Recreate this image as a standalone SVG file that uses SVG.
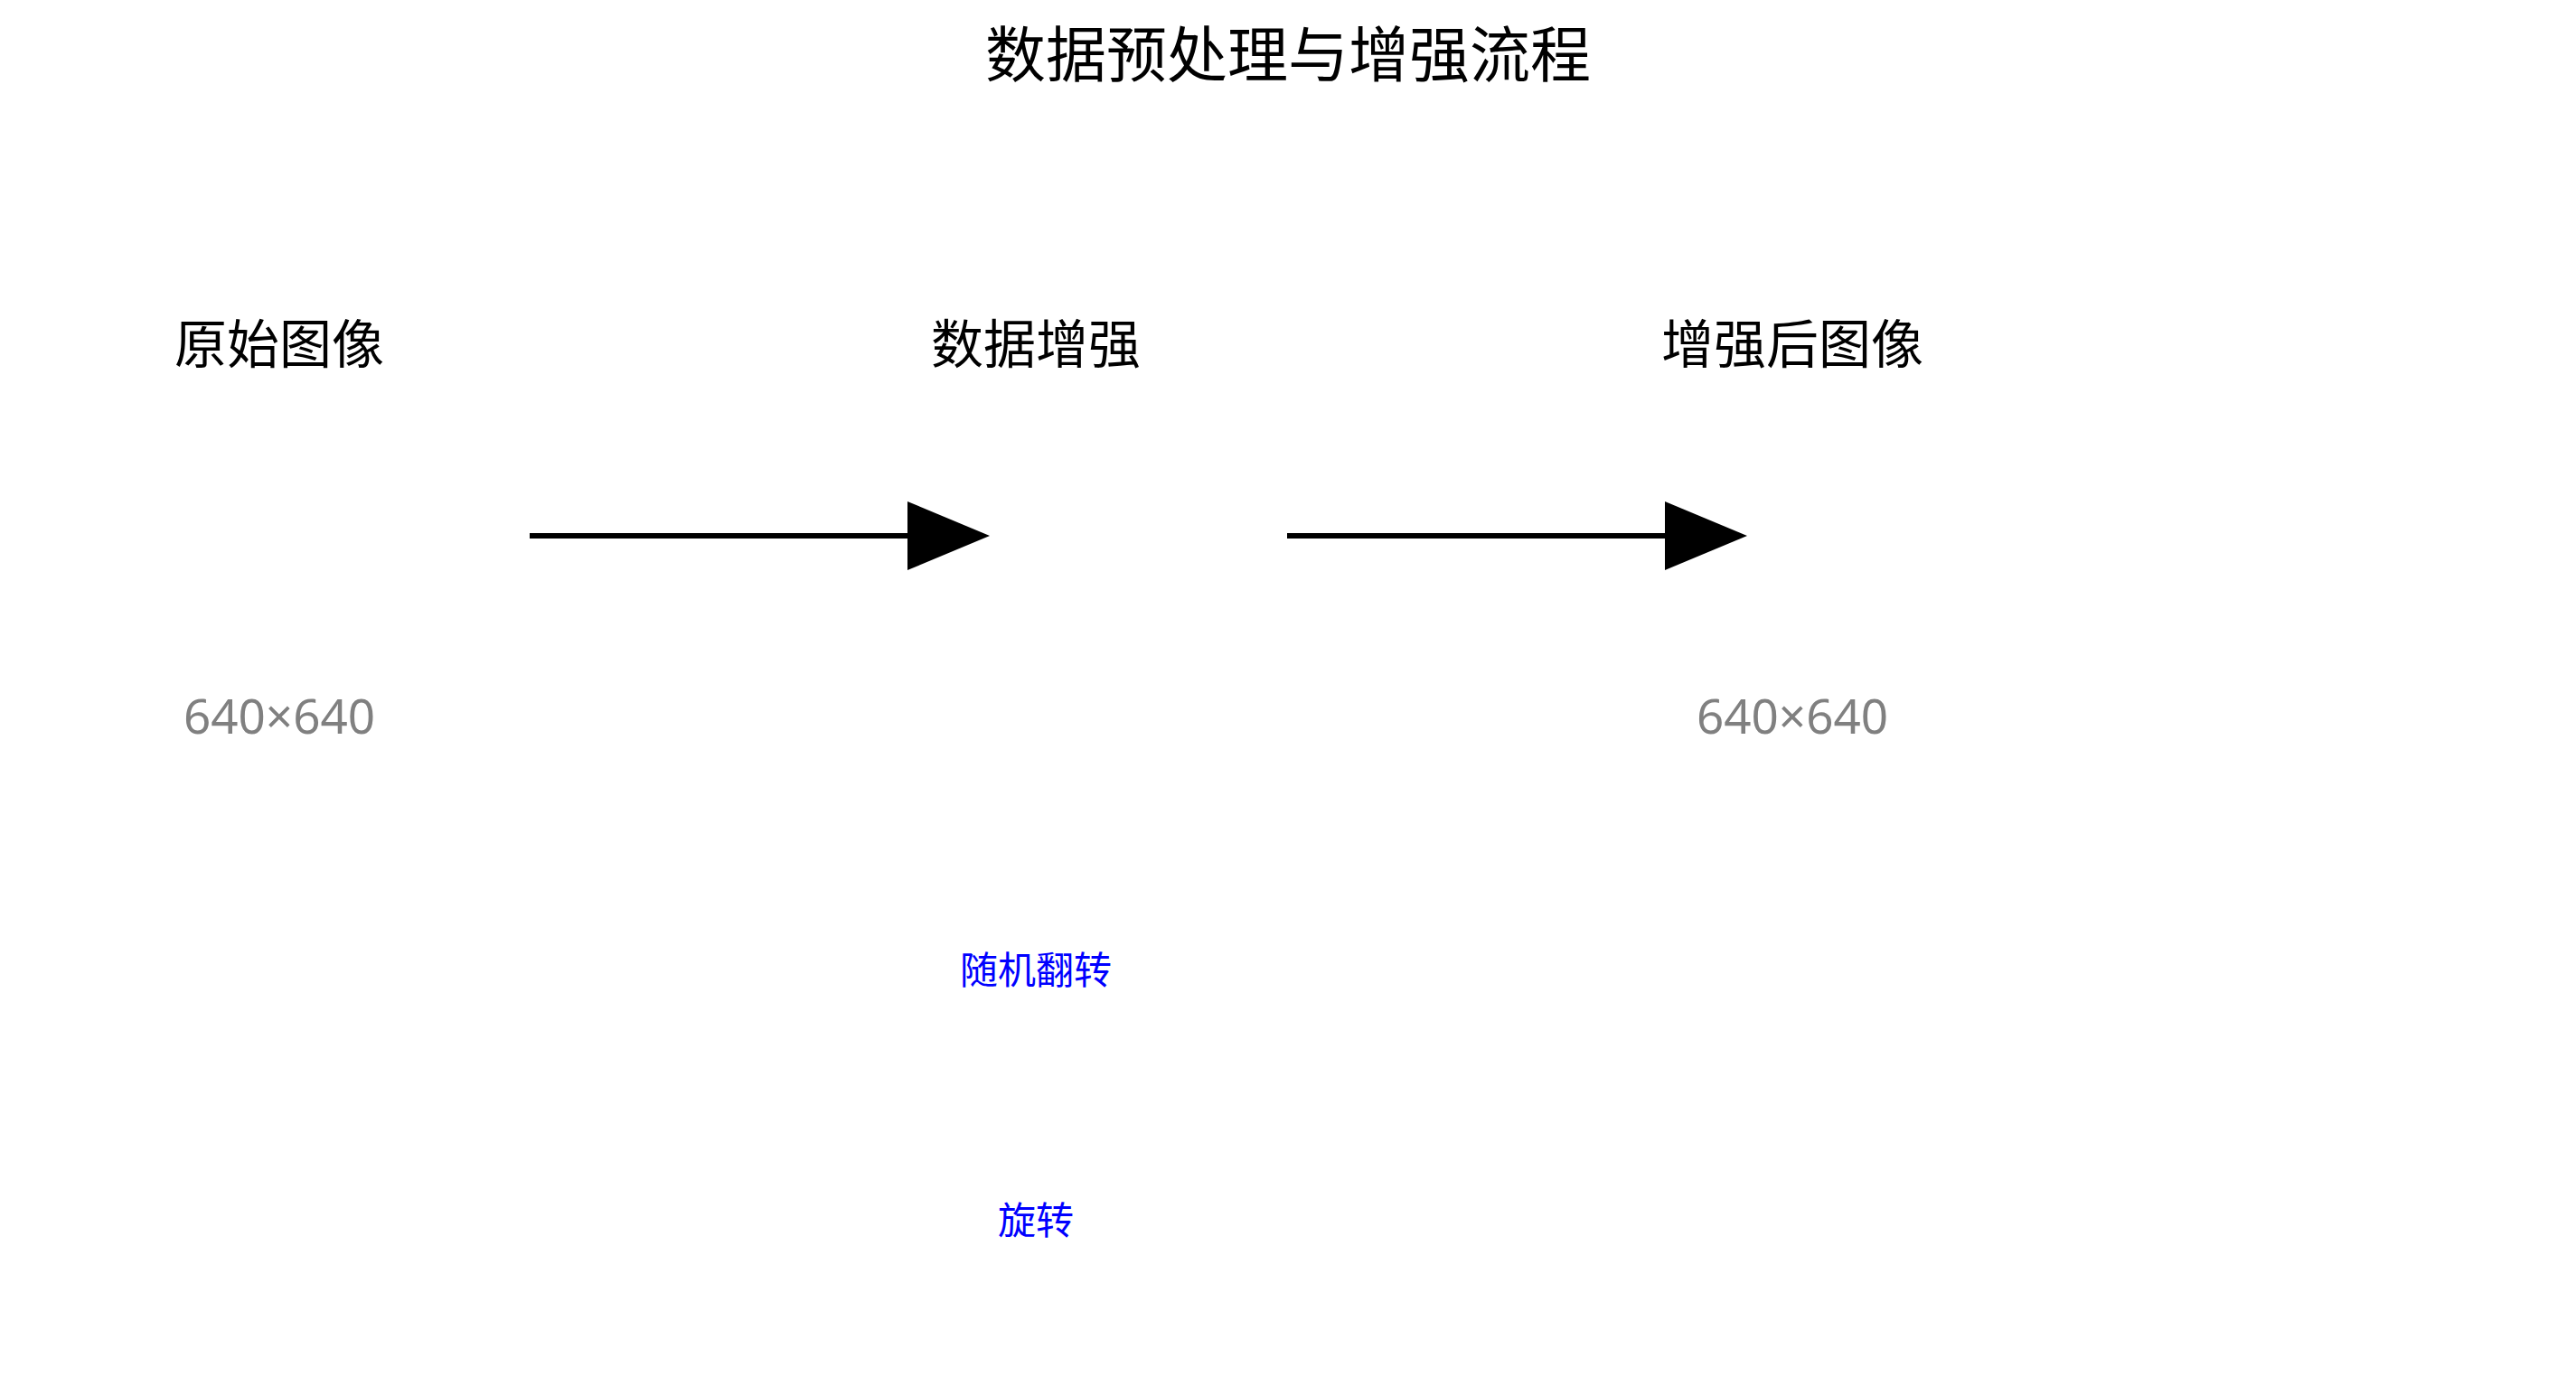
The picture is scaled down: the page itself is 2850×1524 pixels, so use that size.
<svg xmlns="http://www.w3.org/2000/svg" width="2850" height="1524" viewBox="0 0 2850 1524">
<style>
.cjk{font-family:"Noto Sans CJK SC","Noto Sans",sans-serif;text-anchor:middle}
.title{font-size:67px;fill:#000}
.label{font-size:58px;fill:#000}
.size{font-family:"Noto Sans","Open Sans",sans-serif;font-size:53px;fill:#808080;text-anchor:middle}
.op{font-size:42px;fill:#0000ff}
.conn{stroke:#000;stroke-width:6;fill:none}
</style>
<defs>
<marker id="arrow" markerUnits="userSpaceOnUse" markerWidth="92" markerHeight="76" refX="0" refY="38" orient="auto">
<path d="M0,0 L91,38 L0,76 Z" fill="#000"/>
</marker>
</defs>
<rect width="2850" height="1524" fill="#fff"/>
<text class="cjk title" x="1425" y="85">数据预处理与增强流程</text>
<g id="connectors">
<line class="conn" x1="586" y1="593" x2="1004" y2="593" marker-end="url(#arrow)"/>
<line class="conn" x1="1424" y1="593" x2="1842" y2="593" marker-end="url(#arrow)"/>
</g>
<g id="node-original">
<text class="cjk label" x="309" y="402">原始图像</text>
<text class="size" x="309" y="812">640×640</text>
</g>
<g id="node-augment">
<text class="cjk label" x="1146" y="402">数据增强</text>
<text class="cjk op" x="1146" y="1089">随机翻转</text>
<text class="cjk op" x="1146" y="1366">旋转</text>
</g>
<g id="node-augmented">
<text class="cjk label" x="1983" y="402">增强后图像</text>
<text class="size" x="1983" y="812">640×640</text>
</g>
</svg>
